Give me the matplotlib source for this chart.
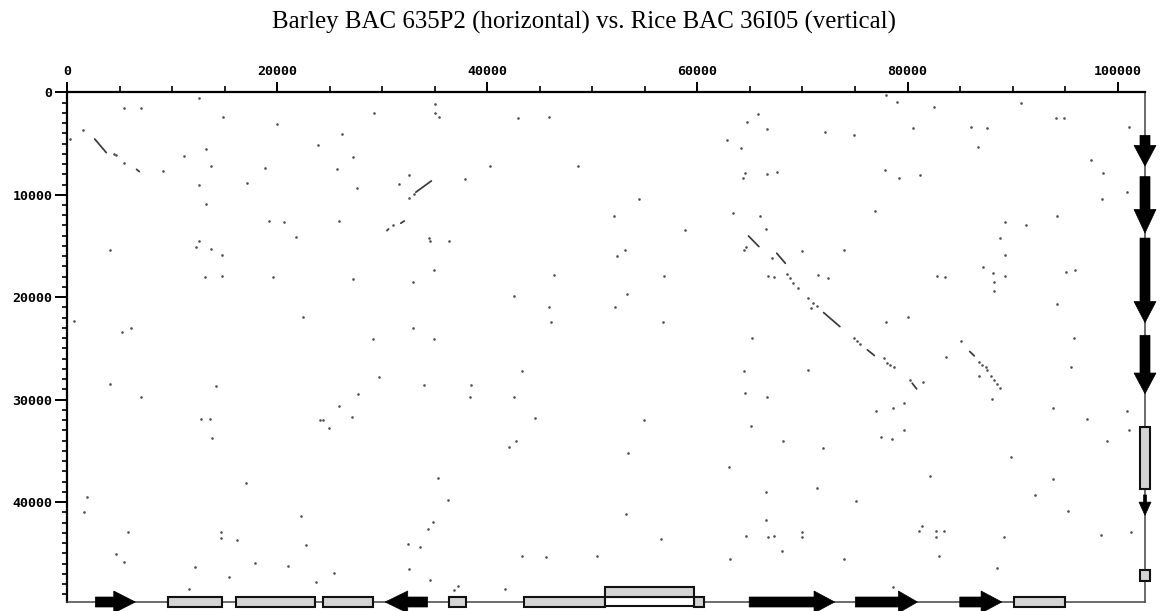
import matplotlib
matplotlib.use("Agg")
import matplotlib.pyplot as plt
from matplotlib.patches import Polygon, Rectangle

W, H = 1167, 611
XMAX = 102600
YMAX = 49750

title = "Barley BAC 635P2 (horizontal) vs. Rice BAC 36I05 (vertical)"
x_major = [0, 20000, 40000, 60000, 80000, 100000]
y_major = [0, 10000, 20000, 30000, 40000]
x_minor = list(range(0, 100001, 5000))
y_minor = list(range(0, 49001, 1000))

# isolated similarity dots (barley position, rice position)
dot_x = [12570, 5460, 7050, 14890, 19990, 29220, 34980, 34980, 35410, 42930, 45900, 1490, 330,
         4460, 4700, 5460, 9100, 11180, 13270, 13730, 12570, 13270, 17110, 18830, 23860, 26180,
         27240, 25710, 27570, 32530, 31610, 32530, 32980, 37890, 40280, 48650, 19190, 20620,
         21780, 25910, 31010, 34490, 34590, 36310, 4070, 12570, 12240, 13730, 14730, 13140,
         14730, 19590, 27240, 32930, 34920, 46340, 42530, 45910, 46100, 660, 5230, 6050, 22440,
         32930, 29120, 34920,
         77980, 79030, 82480, 90780, 65780, 64730, 66670, 72110, 74900, 80510, 86050, 87560,
         86740, 94120, 94880, 101080, 62860, 64110, 64540, 64340, 66670, 67590, 77850, 79230,
         81200, 97500, 98650, 98480, 100910, 54430, 52040, 63390, 65950, 66570, 58830, 76900,
         89270, 91270, 94220, 88810, 89270, 64670, 64440, 53150, 52330, 67090, 69980, 73950,
         66730, 67320, 68510, 68830, 69060, 69620, 71490, 72410, 56860, 53290, 52140, 70570,
         71030, 71360, 70830, 74870, 75200, 75430, 65230, 56700, 77920, 80020, 85070, 87170,
         88090, 88220, 88220, 89270, 82770, 83590, 95040, 95960, 94220, 95860,
         4070, 7080, 14160, 12770, 13570, 13770, 25910, 27730, 27170, 24060, 24320, 24920,
         29720, 33960, 38460, 38360, 42500, 43320, 44580, 42730, 42030, 17010, 1920, 1580,
         5790, 4630, 5420, 14660, 14660, 16180, 12180, 11580, 15390, 17940, 21010, 22300,
         22700, 23730, 25420, 35350, 36270, 34880, 34320, 32470, 33630, 32570, 34550, 37200,
         36840, 41700, 43320, 45610, 50410,
         77720, 78050, 78310, 78710, 80280, 81490, 79620, 77030, 78640, 79620, 77460, 78510,
         86840, 87070, 87430, 87590, 87990, 88250, 88480, 88810, 86840, 88050, 83690, 95530,
         93830, 97070, 100880, 101110, 99010, 89890, 93830, 92090, 95240, 98450, 101310,
         89200, 88510, 82180, 81100, 81360, 82740, 82740, 83460, 82970, 78610, 73920, 75130,
         71950, 71360, 68110, 66640, 65090, 64410, 64540, 70540, 63030, 66500, 66500, 64670,
         66700, 67260, 69950, 69950, 68080, 63090, 54960, 53380, 53220, 56570]
dot_y = [590, 1560, 1560, 2440, 3130, 1990, 1170, 1990, 2440, 2540, 2440, 3680, 4560,
         6020, 6120, 6870, 7680, 6180, 5560, 7190, 9040, 10900, 8820, 7420, 5110, 4070,
         6350, 7520, 9370, 8070, 8980, 10280, 9920, 8460, 7190, 7190, 12520, 12620,
         14150, 12520, 12950, 14250, 14480, 14480, 15390, 14480, 15060, 15290, 15870, 18050,
         17920, 18050, 18250, 18480, 17340, 17830, 19840, 20910, 22380, 22310, 23350, 23030, 21950,
         22960, 24100, 24100,
         260, 980, 1400, 1080, 2120, 2930, 3610, 3840, 4200, 3520, 3390, 3520,
         5300, 2480, 2480, 3390, 4650, 5470, 7910, 8330, 7970, 7810, 7550, 8360,
         8070, 6640, 7910, 10410, 9760, 10410, 12040, 11780, 12040, 13340, 13400, 11580,
         12620, 12980, 12070, 14250, 15870, 15060, 15390, 15390, 15970, 16200, 15480, 15350,
         17920, 18020, 17700, 18150, 18610, 19060, 17820, 18120, 17890, 19650, 20980, 20100,
         20590, 20820, 21010, 24000, 24260, 24560, 24000, 22380, 22380, 21950, 24230, 17010,
         17600, 18480, 19420, 17920, 17890, 18020, 17500, 17340, 20690, 24000,
         28490, 29760, 28620, 31840, 31840, 33760, 30640, 29470, 31680, 32000, 32000, 32780,
         27740, 28590, 28590, 29730, 29730, 27190, 31810, 34080, 34640, 38120, 39480, 40980,
         42930, 45110, 45890, 42900, 43480, 43710, 46340, 48490, 47350, 45990, 46210, 41400,
         44170, 47840, 46900, 37600, 39840, 41990, 42670, 44100, 44360, 46540, 47580, 48170,
         48620, 48490, 45300, 45400, 45300,
         25950, 26380, 26600, 26860, 28130, 28230, 30280, 31060, 30770, 32950, 33660, 33860,
         26280, 26600, 26830, 27090, 27680, 28130, 28490, 28880, 27680, 29950, 25790, 26770,
         30770, 31910, 31090, 32950, 34080, 35610, 37760, 39350, 40850, 43250, 42960,
         43450, 46440, 37500, 42860, 42310, 42860, 43450, 42860, 45300, 48300, 45530, 39910,
         34730, 38640, 34080, 29730, 32590, 27190, 29370, 27090, 36620, 39030, 41760, 43350,
         43420, 43350, 42900, 43450, 44750, 45530, 32000, 35220, 41140, 43580]

# short diagonal runs of hits
seg_x0 = [2640, 6620, 33200, 30450, 31770, 64860, 67550, 72010, 76180, 80440, 85920]
seg_y0 = [4560, 7520, 9750, 13500, 12780, 14020, 15710, 21500, 25140, 28390, 25300]
seg_x1 = [3740, 6880, 34680, 30610, 32100, 65850, 68370, 73560, 76840, 80870, 86350]
seg_y1 = [5890, 7740, 8650, 13340, 12560, 15060, 16690, 22870, 25690, 28950, 25730]

# barley (horizontal) gene features: arrows (start, head start, tip)
barley_arrow_start = [2700, 34320, 64930, 75030, 84970]
barley_arrow_head = [4450, 32430, 71100, 79130, 87000]
barley_arrow_tip = [6500, 30280, 73060, 80940, 88970]
barley_box_start = [9590, 16120, 24320, 36400, 43520, 59680, 90120]
barley_box_end = [14730, 23600, 29120, 37960, 51250, 60600, 94940]
barley_raised_start = [51250]
barley_raised_end = [59680]

# rice (vertical) gene features
rice_arrow_start = [4200, 8230, 14230, 23720]
rice_arrow_head = [5180, 11430, 20420, 27400]
rice_arrow_tip = [7200, 13740, 22480, 29420]
rice_small_arrow = [39300, 40000, 41300]
rice_box_start = [32710, 46580]
rice_box_end = [38710, 47660]

fig = plt.figure(figsize=(W / 100, H / 100), dpi=100)
L, R, T, B = 67, 1145, 92.3, 602
ax = fig.add_axes([L / W, (H - B) / H, (R - L) / W, (B - T) / H])
ax.set_xlim(0, XMAX)
ax.set_ylim(YMAX, 0)

pxx = XMAX / (R - L)   # data units per pixel, x
pxy = YMAX / (B - T)   # data units per pixel, y

ax.scatter(dot_x, dot_y, s=3.5, marker='o', color='#505050', linewidths=0, zorder=3)
for a, b, c, d in zip(seg_x0, seg_y0, seg_x1, seg_y1):
    ax.plot([a, c], [b, d], color='#3a3a3a', lw=1.25, solid_capstyle='round', zorder=3)

def harrow(s, h, t, yc, bh, hh):
    return [(s, yc - bh), (h, yc - bh), (h, yc - hh), (t, yc), (h, yc + hh), (h, yc + bh), (s, yc + bh)]

def varrow(s, h, t, xc, bw, hw):
    return [(xc - bw, s), (xc - bw, h), (xc - hw, h), (xc, t), (xc + hw, h), (xc + bw, h), (xc + bw, s)]

common = dict(clip_on=False, zorder=6)
for s, h, t in zip(barley_arrow_start, barley_arrow_head, barley_arrow_tip):
    ax.add_patch(Polygon(harrow(s, h, t, YMAX, 5 * pxy, 11 * pxy), closed=True,
                         facecolor='black', edgecolor='black', lw=0.5, **common))
for s, e in zip(barley_box_start, barley_box_end):
    ax.add_patch(Rectangle((s, YMAX - 5.5 * pxy), e - s, 10.5 * pxy, facecolor='#d4d4d4',
                           edgecolor='#111111', lw=1.5, **common))
for s, e in zip(barley_raised_start, barley_raised_end):
    ax.add_patch(Rectangle((s, YMAX - 5 * pxy), e - s, 8.5 * pxy, facecolor='white',
                           edgecolor='#111111', lw=1.5, **common))
    ax.add_patch(Rectangle((s, YMAX - 15 * pxy), e - s, 10 * pxy, facecolor='#d4d4d4',
                           edgecolor='#111111', lw=1.5, **common))

for s, h, t in zip(rice_arrow_start, rice_arrow_head, rice_arrow_tip):
    ax.add_patch(Polygon(varrow(s, h, t, XMAX, 5 * pxx, 11 * pxx), closed=True,
                         facecolor='black', edgecolor='black', lw=0.5, **common))
s, h, t = rice_small_arrow
ax.add_patch(Polygon(varrow(s, h, t, XMAX, 1.5 * pxx, 6 * pxx), closed=True,
                     facecolor='black', edgecolor='black', lw=0.5, **common))
for s, e in zip(rice_box_start, rice_box_end):
    ax.add_patch(Rectangle((XMAX - 5 * pxx, s), 10 * pxx, e - s, facecolor='#d4d4d4',
                           edgecolor='#111111', lw=1.5, **common))

for side in ('top', 'left'):
    ax.spines[side].set_linewidth(1.6)
    ax.spines[side].set_color('black')
for side in ('bottom', 'right'):
    ax.spines[side].set_linewidth(1.1)
    ax.spines[side].set_color('#444444')

ax.xaxis.tick_top()
ax.set_xticks(x_major)
ax.set_xticks(x_minor, minor=True)
ax.set_yticks(y_major)
ax.set_yticks(y_minor, minor=True)
ax.set_xticklabels([str(v) for v in x_major])
ax.set_yticklabels([str(v) for v in y_major])
ax.tick_params(axis='x', which='major', direction='out', length=7.5, width=1.4, pad=3)
ax.tick_params(axis='x', which='minor', direction='out', length=4, width=1.2)
ax.tick_params(axis='y', which='major', direction='out', length=8.5, width=1.4, pad=2)
ax.tick_params(axis='y', which='minor', direction='out', length=3.8, width=1.2)
for lab in ax.get_xticklabels() + ax.get_yticklabels():
    lab.set_fontfamily('DejaVu Sans Mono')
    lab.set_fontweight('bold')
    lab.set_fontsize(9.6)

fig.text(0.5, 1 - 22 / H, title, ha='center', va='center', family='Liberation Serif', fontsize=17.9)

fig.savefig('out.png', dpi=100)
